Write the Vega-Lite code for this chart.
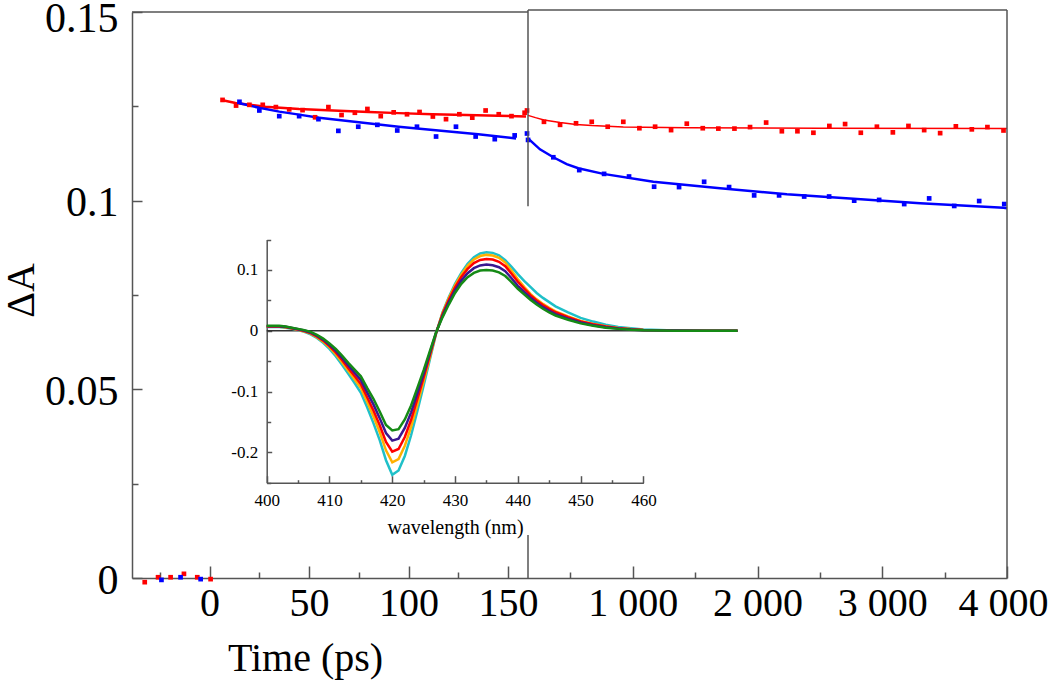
{
  "$schema": "https://vega.github.io/schema/vega-lite/v6.json",
  "width": 875,
  "height": 566,
  "autosize": "none",
  "padding": {"left": 132, "top": 12, "right": 43, "bottom": 109},
  "background": "white",
  "config": {
    "view": {"stroke": null},
    "font": "Liberation Serif",
    "axis": {
      "grid": false,
      "labelFont": "Liberation Serif",
      "titleFont": "Liberation Serif",
      "labelColor": "black",
      "titleColor": "black",
      "titleFontWeight": "normal",
      "domainColor": "#555555",
      "tickColor": "#555555",
      "domainWidth": 1.5,
      "tickWidth": 1.5,
      "labelOverlap": false,
      "labelBound": false,
      "labelFlush": false
    }
  },
  "datasets": {
    "points": [
      {"t": -32.6, "v": -0.0011, "s": "red"}, {"t": -25.9, "v": 0.0002, "s": "red"}, {"t": -19.6, "v": 0.0002, "s": "red"},
      {"t": -12.9, "v": 0.0011, "s": "red"}, {"t": -6.2, "v": 0.0002, "s": "red"}, {"t": 0.5, "v": -0.0003, "s": "red"},
      {"t": 6.5, "v": 0.1267, "s": "red"}, {"t": 13.3, "v": 0.1252, "s": "red"}, {"t": 20, "v": 0.1254, "s": "red"},
      {"t": 26.7, "v": 0.1254, "s": "red"}, {"t": 33.3, "v": 0.1248, "s": "red"}, {"t": 40, "v": 0.1242, "s": "red"},
      {"t": 46.7, "v": 0.124, "s": "red"}, {"t": 53, "v": 0.1221, "s": "red"}, {"t": 59.7, "v": 0.1248, "s": "red"},
      {"t": 66.3, "v": 0.1227, "s": "red"}, {"t": 73, "v": 0.1233, "s": "red"}, {"t": 79.3, "v": 0.1243, "s": "red"},
      {"t": 86, "v": 0.1224, "s": "red"}, {"t": 92.5, "v": 0.1234, "s": "red"}, {"t": 99.2, "v": 0.1229, "s": "red"},
      {"t": 105.5, "v": 0.1235, "s": "red"}, {"t": 112.2, "v": 0.1223, "s": "red"}, {"t": 118.8, "v": 0.1216, "s": "red"},
      {"t": 125.5, "v": 0.1229, "s": "red"}, {"t": 132, "v": 0.122, "s": "red"}, {"t": 138.7, "v": 0.1239, "s": "red"},
      {"t": 145.3, "v": 0.1229, "s": "red"}, {"t": 151.7, "v": 0.1224, "s": "red"}, {"t": 158.3, "v": 0.1233, "s": "red"},
      {"t": 159.5, "v": 0.1239, "s": "red"},
      {"t": 288, "v": 0.1209, "s": "red"}, {"t": 417, "v": 0.1201, "s": "red"}, {"t": 545, "v": 0.1205, "s": "red"},
      {"t": 671, "v": 0.1209, "s": "red"}, {"t": 799, "v": 0.1196, "s": "red"}, {"t": 924, "v": 0.1209, "s": "red"},
      {"t": 1053, "v": 0.1192, "s": "red"}, {"t": 1179, "v": 0.1196, "s": "red"}, {"t": 1307, "v": 0.1187, "s": "red"},
      {"t": 1433, "v": 0.1204, "s": "red"}, {"t": 1561, "v": 0.1192, "s": "red"}, {"t": 1686, "v": 0.1191, "s": "red"},
      {"t": 1815, "v": 0.1191, "s": "red"}, {"t": 1940, "v": 0.1195, "s": "red"}, {"t": 2069, "v": 0.1207, "s": "red"},
      {"t": 2195, "v": 0.1184, "s": "red"}, {"t": 2320, "v": 0.1184, "s": "red"}, {"t": 2448, "v": 0.118, "s": "red"},
      {"t": 2576, "v": 0.1198, "s": "red"}, {"t": 2702, "v": 0.1203, "s": "red"}, {"t": 2828, "v": 0.118, "s": "red"},
      {"t": 2957, "v": 0.1196, "s": "red"}, {"t": 3085, "v": 0.1181, "s": "red"}, {"t": 3210, "v": 0.1198, "s": "red"},
      {"t": 3336, "v": 0.1187, "s": "red"}, {"t": 3464, "v": 0.1179, "s": "red"}, {"t": 3590, "v": 0.1197, "s": "red"},
      {"t": 3718, "v": 0.1189, "s": "red"}, {"t": 3843, "v": 0.1195, "s": "red"}, {"t": 3972, "v": 0.1186, "s": "red"},
      {"t": -24.2, "v": -0.0005, "s": "blue"}, {"t": -14.6, "v": 0.0002, "s": "blue"}, {"t": -4.5, "v": -0.0003, "s": "blue"},
      {"t": 15, "v": 0.1262, "s": "blue"}, {"t": 25, "v": 0.1239, "s": "blue"}, {"t": 35, "v": 0.1224, "s": "blue"},
      {"t": 45, "v": 0.1224, "s": "blue"}, {"t": 54.7, "v": 0.1216, "s": "blue"}, {"t": 64.7, "v": 0.1185, "s": "blue"},
      {"t": 74.7, "v": 0.1196, "s": "blue"}, {"t": 84.3, "v": 0.1201, "s": "blue"}, {"t": 94.3, "v": 0.1186, "s": "blue"},
      {"t": 104.2, "v": 0.1196, "s": "blue"}, {"t": 113.8, "v": 0.117, "s": "blue"}, {"t": 123.8, "v": 0.1196, "s": "blue"},
      {"t": 133.7, "v": 0.117, "s": "blue"}, {"t": 143.3, "v": 0.1163, "s": "blue"}, {"t": 153.3, "v": 0.1173, "s": "blue"},
      {"t": 159.5, "v": 0.1178, "s": "blue"}, {"t": 160.5, "v": 0.1161, "s": "blue"},
      {"t": 363, "v": 0.1115, "s": "blue"}, {"t": 571, "v": 0.1081, "s": "blue"}, {"t": 770, "v": 0.1071, "s": "blue"},
      {"t": 970, "v": 0.1064, "s": "blue"}, {"t": 1171, "v": 0.1037, "s": "blue"}, {"t": 1371, "v": 0.1036, "s": "blue"},
      {"t": 1572, "v": 0.105, "s": "blue"}, {"t": 1772, "v": 0.1036, "s": "blue"}, {"t": 1973, "v": 0.1014, "s": "blue"},
      {"t": 2173, "v": 0.1014, "s": "blue"}, {"t": 2374, "v": 0.1011, "s": "blue"}, {"t": 2574, "v": 0.1011, "s": "blue"},
      {"t": 2775, "v": 0.1, "s": "blue"}, {"t": 2975, "v": 0.1002, "s": "blue"}, {"t": 3176, "v": 0.0991, "s": "blue"},
      {"t": 3376, "v": 0.1006, "s": "blue"}, {"t": 3577, "v": 0.0986, "s": "blue"}, {"t": 3777, "v": 0.0999, "s": "blue"},
      {"t": 3978, "v": 0.0991, "s": "blue"}
    ],
    "fits": [
      {"t": 6, "v": 0.1267, "s": "red-left"}, {"t": 13, "v": 0.1259, "s": "red-left"}, {"t": 20, "v": 0.1254, "s": "red-left"},
      {"t": 28, "v": 0.1249, "s": "red-left"}, {"t": 45, "v": 0.1243, "s": "red-left"}, {"t": 62, "v": 0.1239, "s": "red-left"},
      {"t": 80, "v": 0.1235, "s": "red-left"}, {"t": 95, "v": 0.1232, "s": "red-left"}, {"t": 112, "v": 0.1229, "s": "red-left"},
      {"t": 129, "v": 0.1227, "s": "red-left"}, {"t": 145, "v": 0.1225, "s": "red-left"}, {"t": 159, "v": 0.1223, "s": "red-left"},
      {"t": 160, "v": 0.1226, "s": "red-right"}, {"t": 220, "v": 0.122, "s": "red-right"}, {"t": 288, "v": 0.1214, "s": "red-right"},
      {"t": 417, "v": 0.1207, "s": "red-right"}, {"t": 545, "v": 0.1202, "s": "red-right"}, {"t": 671, "v": 0.1199, "s": "red-right"},
      {"t": 924, "v": 0.1195, "s": "red-right"}, {"t": 1433, "v": 0.1193, "s": "red-right"}, {"t": 2500, "v": 0.1192, "s": "red-right"},
      {"t": 4000, "v": 0.1191, "s": "red-right"},
      {"t": 15, "v": 0.1258, "s": "blue-left"}, {"t": 25, "v": 0.1246, "s": "blue-left"}, {"t": 35, "v": 0.1236, "s": "blue-left"},
      {"t": 45, "v": 0.1228, "s": "blue-left"}, {"t": 55, "v": 0.122, "s": "blue-left"}, {"t": 75, "v": 0.1208, "s": "blue-left"},
      {"t": 95, "v": 0.1196, "s": "blue-left"}, {"t": 115, "v": 0.1186, "s": "blue-left"}, {"t": 135, "v": 0.1176, "s": "blue-left"},
      {"t": 154, "v": 0.1165, "s": "blue-left"},
      {"t": 160, "v": 0.1165, "s": "blue-right"}, {"t": 256, "v": 0.1136, "s": "blue-right"}, {"t": 363, "v": 0.1115, "s": "blue-right"},
      {"t": 470, "v": 0.1097, "s": "blue-right"}, {"t": 563, "v": 0.1086, "s": "blue-right"}, {"t": 764, "v": 0.1071, "s": "blue-right"},
      {"t": 1165, "v": 0.105, "s": "blue-right"}, {"t": 1700, "v": 0.1033, "s": "blue-right"}, {"t": 2235, "v": 0.1017, "s": "blue-right"},
      {"t": 2769, "v": 0.1005, "s": "blue-right"}, {"t": 3304, "v": 0.0993, "s": "blue-right"}, {"t": 3972, "v": 0.0981, "s": "blue-right"},
      {"t": 4000, "v": 0.098, "s": "blue-right"}
    ],
    "frameV": [
      {"t": 160, "v": 0.1505, "v2": 0.0985},
      {"t": 160, "v": 0.0114, "v2": 0},
      {"t": 4000, "v": 0.1505, "v2": 0}
    ],
    "frameH": [
      {"t": -39, "t2": 160, "v": 0.15},
      {"t": 160, "t2": 4000, "v": 0.1505}
    ],
    "zero": [{"w": 400, "w2": 475, "val": 0}],
    "spectra": [
      {"w": 400, "c": 0.006, "o": 0.0066, "r": 0.007, "i": 0.0075, "g": 0.008},
      {"w": 401, "c": 0.006, "o": 0.0066, "r": 0.007, "i": 0.0075, "g": 0.008},
      {"w": 402, "c": 0.006, "o": 0.0066, "r": 0.007, "i": 0.0075, "g": 0.008},
      {"w": 403, "c": 0.005, "o": 0.0056, "r": 0.006, "i": 0.0065, "g": 0.007},
      {"w": 404, "c": 0.003, "o": 0.0036, "r": 0.004, "i": 0.0045, "g": 0.005},
      {"w": 405, "c": 0.001, "o": 0.0016, "r": 0.002, "i": 0.0025, "g": 0.003},
      {"w": 406, "c": -0.002, "o": -0.0012, "r": -0.0004, "i": 0.0003, "g": 0.001},
      {"w": 407, "c": -0.006, "o": -0.0049, "r": -0.0039, "i": -0.0029, "g": -0.002},
      {"w": 408, "c": -0.012, "o": -0.0106, "r": -0.0094, "i": -0.0082, "g": -0.007},
      {"w": 409, "c": -0.02, "o": -0.018, "r": -0.0164, "i": -0.0146, "g": -0.013},
      {"w": 410, "c": -0.03, "o": -0.0275, "r": -0.0253, "i": -0.0231, "g": -0.021},
      {"w": 411, "c": -0.042, "o": -0.0386, "r": -0.0358, "i": -0.0328, "g": -0.03},
      {"w": 412, "c": -0.056, "o": -0.0518, "r": -0.0482, "i": -0.0445, "g": -0.041},
      {"w": 413, "c": -0.071, "o": -0.066, "r": -0.0616, "i": -0.0571, "g": -0.053},
      {"w": 414, "c": -0.086, "o": -0.0798, "r": -0.0746, "i": -0.0691, "g": -0.064},
      {"w": 415, "c": -0.102, "o": -0.0944, "r": -0.088, "i": -0.0812, "g": -0.075},
      {"w": 416, "c": -0.126, "o": -0.117, "r": -0.1094, "i": -0.1014, "g": -0.094},
      {"w": 417, "c": -0.152, "o": -0.1408, "r": -0.1312, "i": -0.1212, "g": -0.112},
      {"w": 418, "c": -0.18, "o": -0.1668, "r": -0.1556, "i": -0.1438, "g": -0.133},
      {"w": 419, "c": -0.213, "o": -0.1968, "r": -0.1828, "i": -0.1683, "g": -0.155},
      {"w": 420, "c": -0.237, "o": -0.2166, "r": -0.199, "i": -0.1808, "g": -0.164},
      {"w": 421, "c": -0.23, "o": -0.211, "r": -0.1946, "i": -0.1776, "g": -0.162},
      {"w": 422, "c": -0.206, "o": -0.1892, "r": -0.1748, "i": -0.1598, "g": -0.146},
      {"w": 423, "c": -0.172, "o": -0.1583, "r": -0.1465, "i": -0.1343, "g": -0.123},
      {"w": 424, "c": -0.132, "o": -0.1214, "r": -0.1122, "i": -0.1027, "g": -0.094},
      {"w": 425, "c": -0.09, "o": -0.083, "r": -0.077, "i": -0.0708, "g": -0.065},
      {"w": 426, "c": -0.047, "o": -0.0431, "r": -0.0397, "i": -0.0362, "g": -0.033},
      {"w": 427, "c": -0.004, "o": -0.0034, "r": -0.003, "i": -0.0025, "g": -0.002},
      {"w": 428, "c": 0.03, "o": 0.0288, "r": 0.027, "i": 0.0244, "g": 0.022},
      {"w": 429, "c": 0.055, "o": 0.0532, "r": 0.0504, "i": 0.0466, "g": 0.043},
      {"w": 430, "c": 0.077, "o": 0.0748, "r": 0.0713, "i": 0.0665, "g": 0.062},
      {"w": 431, "c": 0.095, "o": 0.0923, "r": 0.0882, "i": 0.0824, "g": 0.077},
      {"w": 432, "c": 0.11, "o": 0.1067, "r": 0.1016, "i": 0.0946, "g": 0.088},
      {"w": 433, "c": 0.121, "o": 0.1171, "r": 0.1111, "i": 0.1028, "g": 0.095},
      {"w": 434, "c": 0.127, "o": 0.1228, "r": 0.1164, "i": 0.1074, "g": 0.099},
      {"w": 435, "c": 0.129, "o": 0.1247, "r": 0.118, "i": 0.1087, "g": 0.1},
      {"w": 436, "c": 0.128, "o": 0.1237, "r": 0.117, "i": 0.1077, "g": 0.099},
      {"w": 437, "c": 0.124, "o": 0.1198, "r": 0.1134, "i": 0.1044, "g": 0.096},
      {"w": 438, "c": 0.116, "o": 0.1121, "r": 0.1061, "i": 0.0978, "g": 0.09},
      {"w": 439, "c": 0.105, "o": 0.0988, "r": 0.0938, "i": 0.0863, "g": 0.08},
      {"w": 440, "c": 0.093, "o": 0.0846, "r": 0.0805, "i": 0.0738, "g": 0.069},
      {"w": 441, "c": 0.082, "o": 0.0721, "r": 0.0692, "i": 0.0637, "g": 0.06},
      {"w": 442, "c": 0.072, "o": 0.0605, "r": 0.0584, "i": 0.0542, "g": 0.051},
      {"w": 443, "c": 0.062, "o": 0.0516, "r": 0.0497, "i": 0.0459, "g": 0.043},
      {"w": 444, "c": 0.054, "o": 0.0441, "r": 0.0423, "i": 0.0387, "g": 0.036},
      {"w": 445, "c": 0.047, "o": 0.0377, "r": 0.036, "i": 0.0326, "g": 0.03},
      {"w": 446, "c": 0.04, "o": 0.0318, "r": 0.0303, "i": 0.0273, "g": 0.025},
      {"w": 448, "c": 0.03, "o": 0.0234, "r": 0.0222, "i": 0.0198, "g": 0.018},
      {"w": 450, "c": 0.021, "o": 0.016, "r": 0.0152, "i": 0.0134, "g": 0.012},
      {"w": 452, "c": 0.015, "o": 0.0112, "r": 0.0105, "i": 0.0091, "g": 0.008},
      {"w": 454, "c": 0.01, "o": 0.0073, "r": 0.0068, "i": 0.0058, "g": 0.005},
      {"w": 456, "c": 0.006, "o": 0.0044, "r": 0.0041, "i": 0.0035, "g": 0.003},
      {"w": 458, "c": 0.004, "o": 0.0026, "r": 0.0024, "i": 0.0019, "g": 0.0015},
      {"w": 460, "c": 0.002, "o": 0.0013, "r": 0.0012, "i": 0.0009, "g": 0.0007},
      {"w": 465, "c": 0.0005, "o": 0.0003, "r": 0.0002, "i": 0.0002, "g": 0.0001},
      {"w": 470, "c": 0.0001, "o": 0, "r": 0, "i": 0, "g": 0},
      {"w": 475, "c": 0, "o": 0, "r": 0, "i": 0, "g": 0}
    ]
  },
  "resolve": {
    "scale": {"x": "independent", "y": "independent", "color": "independent"},
    "axis": {"x": "independent", "y": "independent"}
  },
  "layer": [
    {
      "layer": [
        {
          "data": {"name": "fits"},
          "transform": [{"filter": "datum.s !== 'red-right'"}],
          "mark": {"type": "line", "interpolate": "linear", "strokeWidth": 2.5},
          "encoding": {
            "x": {
              "field": "t", "type": "quantitative",
              "scale": {"type": "linear", "domain": [-39, 160, 4000], "range": [0, 396, 875], "nice": false, "zero": false},
              "axis": {
                "orient": "bottom",
                "values": [-25, 0, 25, 50, 75, 100, 125, 150, 500, 1000, 1500, 2000, 2500, 3000, 3500, 4000],
                "labelExpr": "((datum.value % 50 === 0 && datum.value <= 150) || datum.value % 1000 === 0) ? replace(format(datum.value, ','), ',', ' ') : ''",
                "tickSize": {"condition": {"test": "(datum.value % 50 === 0 && datum.value <= 150) || datum.value % 1000 === 0", "value": -12}, "value": -6},
                "labelOffset": {"condition": {"test": "datum.value === 4000", "value": -4}, "value": 0},
                "labelFontSize": 40,
                "labelBaseline": "top",
                "labelPadding": 17,
                "title": "Time (ps)",
                "titleFontSize": 40,
                "titleX": 173,
                "titleY": 92,
                "titleAlign": "center",
                "titleBaseline": "alphabetic"
              }
            },
            "y": {
              "field": "v", "type": "quantitative",
              "scale": {"domain": [0, 0.15], "nice": false, "zero": false},
              "axis": {
                "orient": "left",
                "values": [0, 0.025, 0.05, 0.075, 0.1, 0.125, 0.15],
                "labelExpr": "abs(datum.value * 20 - round(datum.value * 20)) < 0.001 ? format(datum.value, '~g') : ''",
                "tickSize": {"condition": {"test": "abs(datum.value * 20 - round(datum.value * 20)) < 0.001", "value": -10}, "value": -6},
                "labelFontSize": 42,
                "labelPadding": 24,
                "labelOffset": {"condition": {"test": "datum.value > 0.14", "value": 6}, "value": 2},
                "title": "ΔA",
                "titleFontSize": 40,
                "titleAngle": -90,
                "titleX": -99,
                "titleY": 278,
                "titleAlign": "center",
                "titleBaseline": "alphabetic"
              }
            },
            "detail": {"field": "s", "type": "nominal"},
            "color": {
              "field": "s", "type": "nominal", "legend": null,
              "scale": {"domain": ["red-left", "red-right", "blue-left", "blue-right", "red", "blue"], "range": ["#ff0000", "#ff0000", "#0000ff", "#0000ff", "#ff0000", "#0000ff"]}
            }
          }
        },
        {
          "data": {"name": "fits"},
          "transform": [{"filter": "datum.s === 'red-right'"}],
          "mark": {"type": "line", "interpolate": "linear", "strokeWidth": 1.5},
          "encoding": {
            "x": {"field": "t", "type": "quantitative"},
            "y": {"field": "v", "type": "quantitative"},
            "color": {
              "field": "s", "type": "nominal", "legend": null,
              "scale": {"domain": ["red-left", "red-right", "blue-left", "blue-right", "red", "blue"], "range": ["#ff0000", "#ff0000", "#0000ff", "#0000ff", "#ff0000", "#0000ff"]}
            }
          }
        },
        {
          "data": {"name": "points"},
          "mark": {"type": "square", "size": 22, "opacity": 1, "filled": true},
          "encoding": {
            "x": {"field": "t", "type": "quantitative"},
            "y": {"field": "v", "type": "quantitative"},
            "color": {
              "field": "s", "type": "nominal", "legend": null,
              "scale": {"domain": ["red-left", "red-right", "blue-left", "blue-right", "red", "blue"], "range": ["#ff0000", "#ff0000", "#0000ff", "#0000ff", "#ff0000", "#0000ff"]}
            }
          }
        },
        {
          "data": {"name": "frameV"},
          "mark": {"type": "rule", "color": "#555555", "strokeWidth": 1.5},
          "encoding": {
            "x": {"field": "t", "type": "quantitative"},
            "y": {"field": "v", "type": "quantitative"},
            "y2": {"field": "v2"}
          }
        },
        {
          "data": {"name": "frameH"},
          "mark": {"type": "rule", "color": "#555555", "strokeWidth": 1.5},
          "encoding": {
            "x": {"field": "t", "type": "quantitative"},
            "x2": {"field": "t2"},
            "y": {"field": "v", "type": "quantitative"}
          }
        }
      ]
    },
    {
      "layer": [
        {
          "data": {"name": "zero"},
          "mark": {"type": "rule", "color": "#333333", "strokeWidth": 1.5},
          "encoding": {
            "x": {"field": "w", "type": "quantitative", "scale": {"domain": [400, 460], "range": [134.7, 511.4], "nice": false, "zero": false}},
            "x2": {"field": "w2"},
            "y": {"field": "val", "type": "quantitative", "scale": {"domain": [-0.25, 0.15], "range": [470.7, 227.5], "nice": false, "zero": false}}
          }
        },
        {
          "data": {"name": "spectra"},
          "transform": [{"fold": ["c", "o", "r", "i", "g"], "as": ["curve", "val"]}],
          "mark": {"type": "line", "strokeWidth": 2.5, "interpolate": "linear"},
          "encoding": {
            "x": {
              "field": "w", "type": "quantitative",
              "scale": {"domain": [400, 460], "range": [134.7, 511.4], "nice": false, "zero": false},
              "axis": {
                "orient": "bottom",
                "offset": -95.3,
                "values": [400, 405, 410, 415, 420, 425, 430, 435, 440, 445, 450, 455, 460],
                "labelExpr": "datum.value % 10 === 0 ? format(datum.value, 'd') : ''",
                "tickSize": {"condition": {"test": "datum.value % 10 === 0", "value": -7}, "value": -3},
                "labelFontSize": 17,
                "labelBaseline": "top",
                "labelPadding": 17,
                "title": "wavelength (nm)",
                "titleFontSize": 20,
                "titleY": 51,
                "titleAlign": "center",
                "titleBaseline": "alphabetic"
              }
            },
            "y": {
              "field": "val", "type": "quantitative",
              "scale": {"domain": [-0.25, 0.15], "range": [470.7, 227.5], "nice": false, "zero": false},
              "axis": {
                "orient": "left",
                "offset": -134.7,
                "values": [-0.25, -0.2, -0.15, -0.1, -0.05, 0, 0.05, 0.1, 0.15],
                "labelExpr": "abs(datum.value * 10 - round(datum.value * 10)) < 0.001 ? (datum.value < -0.001 ? '-' : '') + format(abs(datum.value), '~g') : ''",
                "tickSize": {"condition": {"test": "abs(datum.value * 10 - round(datum.value * 10)) < 0.001", "value": -5}, "value": -4},
                "labelFontSize": 17,
                "labelPadding": 14,
                "title": null
              }
            },
            "color": {
              "field": "curve", "type": "nominal", "legend": null,
              "scale": {"domain": ["c", "o", "r", "i", "g"], "range": ["#1fc0c8", "#ffb000", "#ff0000", "#3a1890", "#158a15"]}
            }
          }
        }
      ]
    }
  ]
}
